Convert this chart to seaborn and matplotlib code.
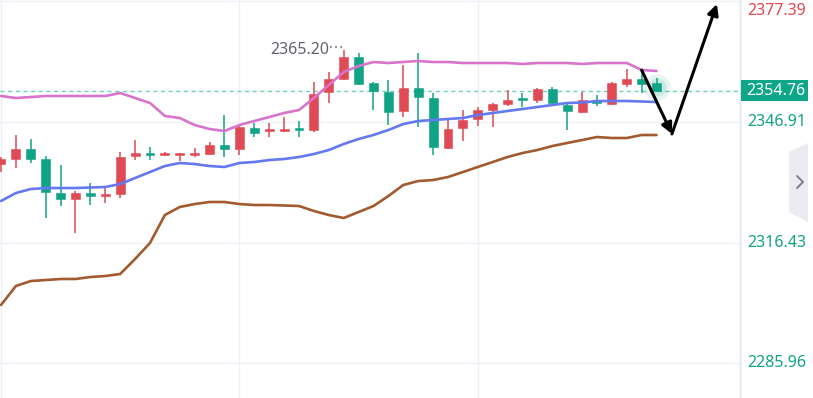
import numpy as np
import pandas as pd
import matplotlib
matplotlib.use("Agg")
import matplotlib.pyplot as plt
import matplotlib.transforms as mtransforms
from matplotlib.patches import Polygon, Rectangle, FancyArrowPatch
from matplotlib.lines import Line2D
import seaborn as sns

# ---------------- data ----------------
opens = [2336.30, 2337.57, 2340.09, 2337.57, 2328.98, 2327.47, 2328.98, 2328.22, 2328.73, 2338.32,
         2339.08, 2338.58, 2338.70, 2338.58, 2338.83, 2341.10, 2340.09, 2345.39, 2344.64, 2344.64,
         2345.14, 2344.89, 2354.49, 2357.77, 2363.32, 2356.76, 2354.49, 2349.69, 2355.50, 2352.97,
         2340.34, 2345.39, 2347.67, 2349.94, 2351.46, 2352.72, 2352.47, 2355.24, 2351.20, 2349.44,
         2352.47, 2351.46, 2356.51, 2357.77, 2356.76]
highs = [2338.07, 2343.63, 2342.62, 2338.32, 2336.05, 2329.49, 2331.51, 2330.24, 2339.33, 2342.36,
         2340.60, 2339.33, 2339.08, 2340.34, 2341.86, 2348.68, 2345.90, 2346.66, 2346.66, 2348.17,
         2347.16, 2357.01, 2359.54, 2365.20, 2364.33, 2357.00, 2357.52, 2361.30, 2364.33, 2354.23,
         2347.42, 2349.94, 2350.70, 2351.71, 2354.99, 2354.23, 2355.40, 2355.75, 2351.96, 2354.49,
         2353.73, 2357.01, 2360.29, 2359.54, 2358.02]
lows = [2334.28, 2335.29, 2336.56, 2322.67, 2325.70, 2318.88, 2325.95, 2326.46, 2327.72, 2337.31,
        2337.31, 2338.32, 2337.06, 2338.07, 2338.70, 2338.07, 2338.58, 2343.12, 2343.12, 2344.38,
        2343.12, 2344.38, 2351.71, 2357.52, 2356.30, 2349.94, 2346.15, 2348.17, 2345.65, 2338.58,
        2340.10, 2342.11, 2345.90, 2345.65, 2350.95, 2350.70, 2351.71, 2351.46, 2344.89, 2349.18,
        2350.95, 2351.20, 2355.75, 2354.23, 2354.49]
closes = [2337.57, 2340.09, 2337.57, 2329.23, 2327.47, 2328.98, 2328.22, 2328.73, 2338.07, 2339.08,
          2338.58, 2339.08, 2338.95, 2338.83, 2341.10, 2340.09, 2345.65, 2344.13, 2345.14, 2345.14,
          2344.89, 2353.98, 2357.77, 2363.32, 2356.51, 2354.74, 2349.44, 2355.50, 2353.22, 2340.60,
          2345.14, 2347.42, 2349.94, 2351.46, 2352.47, 2352.47, 2355.24, 2351.71, 2349.69, 2352.47,
          2351.71, 2356.76, 2357.77, 2356.51, 2354.76]

upper = [2353.48, 2352.97, 2353.22, 2353.48, 2353.48, 2353.48, 2353.48, 2353.48, 2354.23, 2352.97,
         2351.71, 2348.43, 2347.92, 2346.15, 2345.14, 2344.64, 2346.15, 2347.16, 2348.17, 2349.18,
         2349.94, 2352.97, 2356.25, 2359.54, 2361.05, 2362.06, 2361.81, 2362.06, 2362.31, 2362.06,
         2362.06, 2361.81, 2361.81, 2361.81, 2361.81, 2361.56, 2361.81, 2361.81, 2361.81, 2361.56,
         2361.81, 2361.81, 2361.81, 2360.04, 2359.79]
middle = [2326.96, 2328.98, 2329.99, 2330.24, 2330.24, 2330.24, 2330.37, 2330.50, 2331.25, 2332.77,
          2334.28, 2335.80, 2336.56, 2336.30, 2335.80, 2335.55, 2336.56, 2336.81, 2337.31, 2337.57,
          2338.07, 2338.83, 2339.84, 2341.35, 2342.62, 2343.63, 2344.89, 2346.40, 2347.16, 2347.42,
          2347.67, 2347.92, 2348.68, 2349.18, 2349.69, 2350.19, 2350.70, 2351.20, 2351.71, 2351.83,
          2352.21, 2352.21, 2352.21, 2352.09, 2351.96]
lower = [2300.70, 2305.50, 2306.76, 2307.01, 2307.27, 2307.27, 2307.77, 2308.02, 2308.53, 2312.32,
         2316.36, 2323.43, 2325.45, 2326.20, 2326.71, 2326.71, 2326.20, 2325.95, 2325.95, 2325.83,
         2325.70, 2324.44, 2323.43, 2322.67, 2324.18, 2325.70, 2328.22, 2331.00, 2332.01, 2332.26,
         2333.02, 2334.28, 2335.55, 2336.81, 2338.07, 2339.08, 2339.84, 2340.85, 2341.61, 2342.36,
         2343.12, 2342.87, 2342.87, 2343.63, 2343.63]

price_ticks = [2377.39, 2346.91, 2316.43, 2285.96]
tick_colors = ["#e0474f", "#12a387", "#12a387", "#12a387"]
last_price = 2354.76
high_label = "2365.20"
high_value = 2365.20
high_index = 23
time_grid = [0, 16, 32]
# hand-drawn arrow path (candle index, price)
arrow_path = [(43.0, 2360.0), (45.03, 2343.9), (48.05, 2376.7)]

# ---------------- styling ----------------
RED = "#df4a55"
GREEN = "#10a386"
W, H = 813, 398
PLOT_W = 740

sns.set_theme(style="white")
plt.rcParams["font.family"] = ["Noto Sans", "DejaVu Sans"]

fig = plt.figure(figsize=(W / 100, H / 100), dpi=100)
fig.patch.set_facecolor("white")
ax = fig.add_axes([0, 0, PLOT_W / W, 1])
ax.set_facecolor("white")

n = len(opens)
idx = np.arange(n)
df = pd.DataFrame({"idx": idx, "open": opens, "high": highs, "low": lows,
                   "close": closes, "upper": upper, "middle": middle, "lower": lower})

ax.set_xlim(-0.067, 49.6)
ax.set_ylim(2277.22, 2377.72)

# grid
for p in price_ticks:
    ax.axhline(p, color="#eef0f5", lw=1.0, zorder=0)
for t in time_grid:
    ax.axvline(t, color="#eef0f5", lw=1.0, zorder=0)

# candles
colors = [RED if c >= o else GREEN for o, c in zip(df["open"], df["close"])]
body_bottom = np.minimum(df["open"], df["close"])
body_h = np.maximum(np.abs(df["close"] - df["open"]), 0.4)
ax.vlines(df["idx"], df["low"], df["high"], colors=colors, lw=1.1, zorder=2)
ax.bar(df["idx"], body_h, bottom=body_bottom, width=0.6, color=colors,
       edgecolor=colors, linewidth=0.4, zorder=3)

# bands
sns.lineplot(data=df, x="idx", y="upper", ax=ax, color="#d874cb", lw=1.9, zorder=4, legend=False)
sns.lineplot(data=df, x="idx", y="middle", ax=ax, color="#6479ef", lw=1.9, zorder=4, legend=False)
sns.lineplot(data=df, x="idx", y="lower", ax=ax, color="#a25a2f", lw=1.9, zorder=4, legend=False)
ax.set_xlabel("")
ax.set_ylabel("")

# last price dashed line
ax.axhline(last_price, color="#6fd0bd", lw=1.0, ls=(0, (3, 2.5)), zorder=1)

# glow on last candle
ax.scatter([n - 1], [closes[-1] + 0.9], s=360, color=GREEN, alpha=0.10, lw=0, zorder=1)
ax.scatter([n - 1], [closes[-1] + 0.9], s=170, color=GREEN, alpha=0.14, lw=0, zorder=1)

# highest-high label
ax.text(high_index - 1.0, high_value, high_label, ha="right", va="center",
        fontsize=11.5, color="#60646f", zorder=6)
ax.plot([high_index - 0.9, high_index - 0.1], [high_value + 0.6, high_value + 0.6],
        ls=(0, (0.8, 1.5)), color="#8a8d96", lw=1.6, zorder=6)

# arrows
for (x0, y0), (x1, y1) in zip(arrow_path[:-1], arrow_path[1:]):
    ax.add_patch(FancyArrowPatch((x0, y0), (x1, y1), arrowstyle="-|>", color="black",
                                 lw=2.2, mutation_scale=16, shrinkA=0, shrinkB=0,
                                 zorder=7, clip_on=False))

ax.set_xticks([])
ax.set_yticks([])
for s in ["top", "left", "bottom"]:
    ax.spines[s].set_visible(False)
ax.spines["right"].set_color("#e0e3eb")
ax.spines["right"].set_linewidth(1.0)

# price scale labels
trans = mtransforms.blended_transform_factory(fig.transFigure, ax.transData)
ytop = ax.get_ylim()[1]
for p, c in zip(price_ticks, tick_colors):
    yp = min(p, ytop - 2.7)
    fig.text(747 / W, yp, f"{p:.2f}", transform=trans, ha="left", va="center",
             fontsize=11.5, color=c)

# last price tag
yb_top = 1 - 80 / H
yb_bot = 1 - 101 / H
fig.patches.append(Rectangle((741 / W, yb_bot), (808 - 741) / W, yb_top - yb_bot,
                             transform=fig.transFigure, facecolor="#0ea689",
                             edgecolor="none", zorder=5))
fig.text(746 / W, last_price, f"{last_price:.2f}", transform=trans, ha="left",
         va="center", fontsize=11.5, color="white", zorder=6)

# collapse tab with chevron
tab = [(789, 152), (808, 143), (808, 222), (789, 212)]
fig.patches.append(Polygon([(x / W, 1 - y / H) for x, y in tab], closed=True,
                           transform=fig.transFigure, facecolor="#ebebf0",
                           edgecolor="none", zorder=4))
fig.lines.append(Line2D([797 / W, 803 / W, 797 / W],
                        [1 - 176 / H, 1 - 182 / H, 1 - 188 / H],
                        transform=fig.transFigure, color="#7b7e8c", lw=1.4, zorder=5))

fig.savefig("out.png", dpi=100)
